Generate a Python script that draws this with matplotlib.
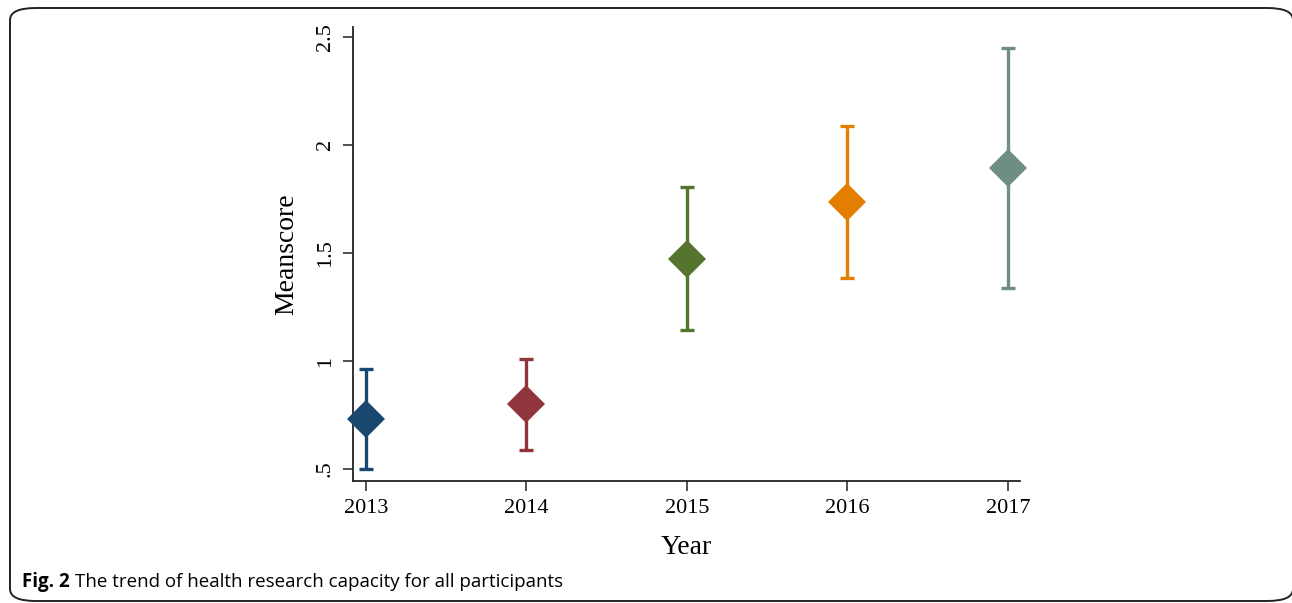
import numpy as np
import matplotlib.pyplot as plt
from matplotlib.patches import FancyBboxPatch

# mean score per survey year with CI bounds
years = [2013, 2014, 2015, 2016, 2017]
mean_score = [0.73, 0.80, 1.47, 1.735, 1.895]
ci_low = [0.50, 0.59, 1.145, 1.385, 1.34]
ci_high = [0.965, 1.01, 1.805, 2.085, 2.45]
colors = ["#1a476f", "#90353b", "#55752f", "#e37e00", "#6e8e84"]

y_ticks = [0.5, 1, 1.5, 2, 2.5]
y_ticklabels = [".5", "1", "1.5", "2", "2.5"]

serif = ["Liberation Serif", "DejaVu Serif"]

fig = plt.figure(figsize=(12.92, 6.03), dpi=100)
ax = fig.add_axes([353 / 1292, 1 - 481 / 603, (1020 - 353) / 1292, (481 - 27) / 603])

for x, m, lo, hi, c in zip(years, mean_score, ci_low, ci_high, colors):
    ax.errorbar(x, m, yerr=[[m - lo], [hi - m]], fmt="none", ecolor=c,
                elinewidth=2.4, capsize=5, capthick=2.4, zorder=2)
    ax.plot(x, m, marker="D", markersize=19, color=c, markeredgewidth=0,
            zorder=3, clip_on=False)

ax.set_xlim(2012.92, 2017.075)
ax.set_ylim(0.445, 2.545)
ax.set_xticks(years)
ax.set_xticklabels([str(y) for y in years], fontsize=16, family=serif)
ax.set_yticks(y_ticks)
ax.set_yticklabels(y_ticklabels, fontsize=16, family=serif, rotation=90, va="center")
ax.tick_params(axis="both", length=7, width=1.2, color="#333333", pad=6)

for side in ["top", "right"]:
    ax.spines[side].set_visible(False)
for side in ["left", "bottom"]:
    ax.spines[side].set_linewidth(1.3)
    ax.spines[side].set_color("#222222")

ax.set_xlabel("Year", fontsize=20, family=serif, labelpad=12)
ax.set_ylabel("Meanscore", fontsize=20, family=serif, labelpad=12)

# rounded panel border
frame = FancyBboxPatch((10 / 1292, 1 - 601 / 603), (1293 - 10) / 1292, (601 - 8) / 603,
                       boxstyle="round,pad=0,rounding_size=0.02",
                       transform=fig.transFigure, fill=False,
                       edgecolor="#222222", linewidth=1.4, clip_on=False)
fig.patches.append(frame)

cap_y = 1 - 582 / 603
t1 = fig.text(22 / 1292, cap_y, "Fig. 2", fontsize=13.5, fontweight="bold",
              family="Open Sans", va="center", ha="left")
fig.canvas.draw()
bb = t1.get_window_extent()
fig.text((bb.x1 + 5) / 1292, cap_y, "The trend of health research capacity for all participants",
         fontsize=13.5, family="Open Sans", va="center", ha="left")

fig.savefig("out.png", dpi=100)
